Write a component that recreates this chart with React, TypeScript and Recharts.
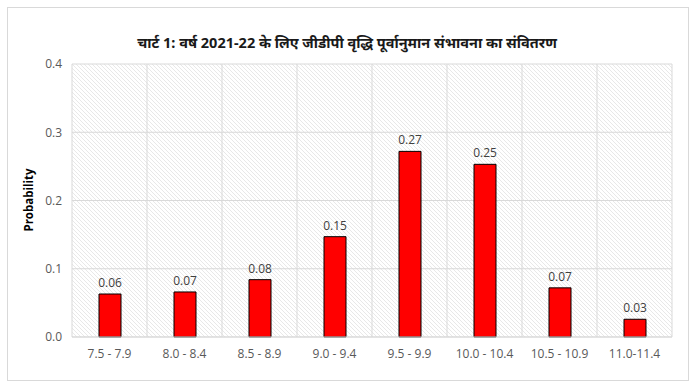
import React from 'react';
import { BarChart, Bar, XAxis, YAxis, CartesianGrid, LabelList } from 'recharts';

const ranges = ['7.5 - 7.9', '8.0 - 8.4', '8.5 - 8.9', '9.0 - 9.4', '9.5 - 9.9', '10.0 - 10.4', '10.5 - 10.9', '11.0-11.4'];
const probability = [0.063, 0.066, 0.084, 0.147, 0.272, 0.253, 0.072, 0.026];
const yTicks = [0, 0.1, 0.2, 0.3, 0.4];

const chartData = ranges.map((range, i) => ({ range, p: probability[i] }));

const tickFont = "Open Sans, 'Noto Sans', sans-serif";

export default function App() {
  return (
    <div style={{ position: 'absolute', left: 0, top: 0, width: 694, height: 387, background: '#fff', fontFamily: tickFont }}>
      {/* outer frame */}
      <div style={{ position: 'absolute', left: 7, top: 7, width: 680, height: 372, border: '1px solid #d9d9d9' }} />
      <div
        style={{
          position: 'absolute',
          left: 0,
          width: 694,
          top: 31,
          textAlign: 'center',
          fontSize: 14.5,
          fontWeight: 700,
          color: '#1a1a1a',
          fontFamily: "'Noto Sans', 'Noto Sans Devanagari', sans-serif",
          lineHeight: '22px',
        }}
      >
        चार्ट 1: वर्ष 2021-22 के लिए जीडीपी वृद्धि पूर्वानुमान संभावना का संवितरण
      </div>
      <div
        style={{
          position: 'absolute',
          left: 28,
          top: 200,
          transform: 'translate(-50%, -50%) rotate(-90deg)',
          fontSize: 11.5,
          fontWeight: 700,
          color: '#000',
          whiteSpace: 'nowrap',
        }}
      >
        Probability
      </div>
      <BarChart
        width={694}
        height={387}
        data={chartData}
        margin={{ top: 64, right: 22, left: 0, bottom: 20 }}
        barCategoryGap="35%"
        style={{ position: 'absolute', left: 0, top: 0 }}
      >
        <defs>
          <pattern id="hatch" width="4" height="4" patternUnits="userSpaceOnUse">
            <rect width="4" height="4" fill="#ffffff" />
            <path d="M-1,-1 L5,5 M3,-1 L5,1 M-1,3 L1,5" stroke="#e8e8e8" strokeWidth="1" />
          </pattern>
        </defs>
        <CartesianGrid
          fill="url(#hatch)"
          stroke="#d9d9d9"
          verticalCoordinatesGenerator={({ offset }: any) =>
            ranges.map((_, i) => offset.left + (i * offset.width) / ranges.length).concat(offset.left + offset.width)
          }
        />
        <XAxis
          dataKey="range"
          tickLine={false}
          axisLine={{ stroke: '#d9d9d9' }}
          tickSize={0}
          tickMargin={12}
          height={30}
          interval={0}
          tick={{ fill: '#595959', fontSize: 12, fontFamily: tickFont }}
        />
        <YAxis
          domain={[0, 0.4]}
          ticks={yTicks}
          tickFormatter={(v: number) => v.toFixed(1)}
          tickLine={false}
          axisLine={false}
          tickSize={0}
          tickMargin={10}
          width={72}
          tick={{ fill: '#595959', fontSize: 12, fontFamily: tickFont }}
        />
        <Bar dataKey="p" fill="#ff0000" stroke="#000" strokeWidth={1} barSize={22} isAnimationActive={false}>
          <LabelList
            dataKey="p"
            position="top"
            offset={7}
            formatter={(v: any) => Number(v).toFixed(2)}
            style={{ fill: '#404040', fontSize: 12, fontFamily: tickFont }}
          />
        </Bar>
      </BarChart>
    </div>
  );
}
